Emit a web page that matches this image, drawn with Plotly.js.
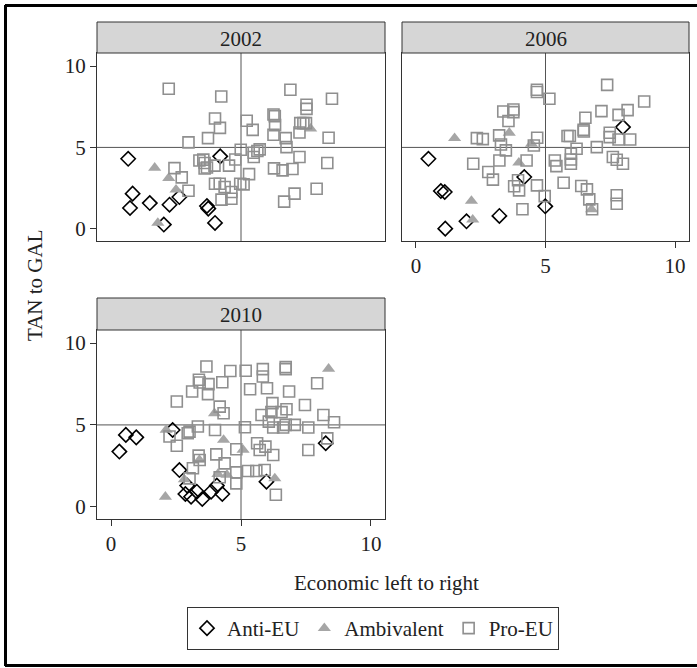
<!DOCTYPE html>
<html>
<head>
<meta charset="utf-8">
<script src="https://cdn.plot.ly/plotly-3.0.1.min.js"></script>
<style>
html,body{margin:0;padding:0;background:#fff;}
#chart{width:697px;height:668px;}
</style>
</head>
<body>
<div id="chart"></div>
<script>
// ---------- Data ----------
const panelYears = ["2002", "2006", "2010"];
const groupNames = ["Anti-EU", "Ambivalent", "Pro-EU"];
const tickVals = [0, 5, 10];
const tickLabels = ["0", "5", "10"];

// 2002
const anti2002X = [0.66,4.2,0.83,0.73,1.49,2.25,2.63,3.69,3.74,2.03,4.0];
const anti2002Y = [4.3,4.45,2.16,1.28,1.58,1.48,1.95,1.4,1.24,0.26,0.36];
const amb2002X = [1.68,2.22,2.5,1.8,7.68];
const amb2002Y = [3.75,3.12,2.4,0.36,6.15];
const pro2002X = [2.22,4.24,4.0,4.19,2.98,3.73,6.9,8.5,7.52,7.52,6.25,6.3,5.22,5.45,6.31,6.25,7.28,7.4,7.5,7.25,8.37,6.72,6.75,4.99,5.49,5.72,5.63,5.49,7.25,8.32,6.27,6.6,6.98,5.31,7.91,7.06,6.66,2.44,2.72,2.98,3.4,3.6,3.69,3.98,4.54,4.78,4.0,4.18,4.37,4.63,4.63,4.25,4.97,5.1,3.6,3.55];
const pro2002Y = [8.6,8.13,6.78,6.2,5.31,5.57,8.54,7.99,7.62,7.37,7.02,6.92,6.64,6.08,6.37,5.78,6.49,6.49,6.49,5.92,5.59,5.57,5.02,4.86,4.67,4.88,4.78,4.41,4.41,4.04,3.71,3.59,3.67,3.36,2.46,2.16,1.67,3.73,3.16,2.34,4.2,4.04,3.77,3.88,3.88,4.26,2.77,2.77,2.57,2.26,1.85,1.79,2.77,2.73,3.7,4.25];

// 2006
const anti2006X = [0.48,0.96,1.11,1.13,1.95,3.22,4.18,4.99,7.99];
const anti2006Y = [4.3,2.32,2.26,0.01,0.46,0.79,3.18,1.38,6.25];
const amb2006X = [1.49,3.6,4.46,3.97,2.14,2.19,6.78];
const amb2006Y = [5.57,5.9,5.22,4.06,1.71,0.56,1.2];
const pro2006X = [4.67,4.67,5.15,7.38,8.81,8.17,7.82,7.16,6.54,6.47,6.48,5.94,5.85,7.48,7.48,7.82,8.27,3.37,3.76,3.76,3.57,3.21,3.28,3.47,2.35,2.58,4.68,4.55,2.21,2.79,2.97,3.22,4.27,3.94,3.79,3.98,4.67,4.97,4.11,5.36,5.42,5.98,5.98,5.98,6.2,6.98,7.6,7.75,7.99,5.7,6.38,6.6,6.69,7.75,7.75,6.8];
const pro2006Y = [8.54,8.4,7.99,8.84,7.82,7.29,7.0,7.23,6.82,6.08,5.98,5.7,5.7,5.9,5.63,5.49,5.49,7.21,7.33,7.17,6.62,5.74,5.18,4.82,5.57,5.51,5.59,5.12,4.0,3.49,3.02,4.2,4.2,2.98,2.61,2.36,2.67,2.01,1.2,4.2,3.85,4.61,4.26,4.0,4.92,5.02,4.41,4.24,4.0,2.83,2.63,2.42,1.81,2.06,1.54,1.2];

// 2010
const anti2010X = [0.57,0.97,0.32,2.37,2.63,2.93,2.86,3.08,3.3,3.51,3.85,4.28,4.07,5.98,8.26];
const anti2010Y = [4.39,4.24,3.37,4.69,2.24,1.29,0.78,0.61,0.92,0.47,0.92,0.78,1.29,1.53,3.88];
const amb2010X = [2.12,2.09,2.82,3.4,3.98,4.33,4.46,4.11,5.08,6.3,8.37];
const amb2010Y = [4.69,0.61,1.67,2.86,5.71,4.08,1.94,2.0,3.47,1.73,8.43];
const pro2010X = [3.67,4.59,5.18,5.84,5.84,6.72,6.72,3.38,3.41,3.75,3.12,3.73,4.28,5.35,6.0,6.85,7.93,2.53,4.18,4.33,6.21,6.75,7.46,8.17,8.58,5.79,6.17,6.56,6.07,6.24,6.62,6.72,7.07,7.59,5.15,4.0,3.34,3.02,2.95,2.25,2.53,8.32,7.59,5.62,5.94,5.72,6.24,4.82,4.05,3.37,3.41,4.37,3.15,5.27,5.59,5.91,4.82,4.82,3.02,4.18,6.34];
const pro2010Y = [8.57,8.29,8.31,8.41,7.96,8.53,8.41,7.76,7.59,7.49,7.04,6.88,7.61,7.18,7.24,7.04,7.55,6.43,6.12,5.71,6.33,5.96,6.22,5.61,5.16,5.61,5.78,5.78,5.2,4.84,4.84,5.0,5.0,4.84,4.86,4.69,4.9,4.59,4.49,4.29,3.73,4.18,3.47,3.88,3.67,3.47,3.16,3.51,3.2,3.12,2.86,2.65,2.35,2.18,2.18,2.24,2.1,1.43,1.73,1.8,0.73];

// ---------- Styling ----------
const FONT = "Liberation Serif, Times New Roman, serif";
const TXT = "#222";
const AX = "#333";
const W = 697, H = 668;
const px = v => v / W;
const py = v => 1 - v / H;

const styles = [
  {symbol: "diamond-open", size: 11, color: "#000", line: {width: 1.6, color: "#000"}},
  {symbol: "triangle-up", size: 11.5, color: "#a6a6a6", line: {width: 0}},
  {symbol: "square-open", size: 11, color: "#8f8f8f", line: {width: 1.6, color: "#8f8f8f"}}
];

const dataSets = [
  [[anti2002X, anti2002Y], [amb2002X, amb2002Y], [pro2002X, pro2002Y]],
  [[anti2006X, anti2006Y], [amb2006X, amb2006Y], [pro2006X, pro2006Y]],
  [[anti2010X, anti2010Y], [amb2010X, amb2010Y], [pro2010X, pro2010Y]]
];

const traces = [];
dataSets.forEach((panel, p) => {
  const ax = p === 0 ? "" : String(p + 1);
  panel.forEach((xy, g) => {
    const s = styles[g];
    traces.push({
      type: "scatter", mode: "markers",
      x: xy[0], y: xy[1],
      xaxis: "x" + ax, yaxis: "y" + ax,
      name: groupNames[g], legendgroup: groupNames[g],
      showlegend: p === 0,
      marker: {symbol: s.symbol, size: s.size, color: s.color, line: s.line},
      hoverinfo: "skip"
    });
  });
});

// panel pixel boxes [left, right, top, bottom], header [top,bottom]
const boxes = [
  {l: 97, r: 385, t: 53, b: 241, ht: 22},
  {l: 402, r: 689, t: 53, b: 241, ht: 22},
  {l: 97, r: 385, t: 330, b: 519, ht: 298}
];
const showXT = [false, true, true];
const showYT = [true, false, true];

const layout = {
  width: W, height: H,
  margin: {l: 0, r: 0, t: 0, b: 0},
  paper_bgcolor: "#fff", plot_bgcolor: "#fff",
  font: {family: FONT, size: 21, color: TXT},
  showlegend: true,
  legend: {
    orientation: "h", x: px(373), xanchor: "center", y: py(607), yanchor: "top",
    bordercolor: AX, borderwidth: 1, bgcolor: "#fff",
    font: {family: FONT, size: 21, color: TXT},
    itemclick: false, itemdoubleclick: false
  },
  shapes: [], annotations: []
};

boxes.forEach((b, p) => {
  const ax = p === 0 ? "" : String(p + 1);
  layout["xaxis" + ax] = {
    domain: [px(b.l), px(b.r)], range: [-0.54, 10.54], anchor: "y" + ax,
    showgrid: false, zeroline: false, showline: true, mirror: true,
    linecolor: AX, linewidth: 1,
    tickmode: "array", tickvals: tickVals, ticktext: tickLabels,
    ticks: showXT[p] ? "outside" : "", ticklen: 6, tickcolor: AX, tickwidth: 1,
    showticklabels: showXT[p],
    tickfont: {family: FONT, size: 21, color: TXT}, fixedrange: true
  };
  layout["yaxis" + ax] = {
    domain: [py(b.b), py(b.t)], range: [-0.75, 10.8], anchor: "x" + ax,
    showgrid: false, zeroline: false, showline: true, mirror: true,
    linecolor: AX, linewidth: 1,
    tickmode: "array", tickvals: tickVals, ticktext: tickLabels,
    ticks: showYT[p] ? "outside" : "", ticklen: 6, tickcolor: AX, tickwidth: 1,
    showticklabels: showYT[p],
    tickfont: {family: FONT, size: 21, color: TXT}, fixedrange: true
  };
  // reference lines at 5
  layout.shapes.push({type: "line", xref: "x" + ax, yref: "y" + ax + " domain",
    x0: 5, x1: 5, y0: 0, y1: 1, line: {color: "#555", width: 1}, layer: "below"});
  layout.shapes.push({type: "line", xref: "x" + ax + " domain", yref: "y" + ax,
    x0: 0, x1: 1, y0: 5, y1: 5, line: {color: "#555", width: 1}, layer: "below"});
  // header strip
  layout.shapes.push({type: "rect", xref: "paper", yref: "paper",
    x0: px(b.l), x1: px(b.r), y0: py(b.t), y1: py(b.ht),
    fillcolor: "#d6d6d6", line: {color: AX, width: 1}});
  layout.annotations.push({xref: "paper", yref: "paper",
    x: px((b.l + b.r) / 2), y: py((b.ht + b.t) / 2 + 1),
    xanchor: "center", yanchor: "middle", showarrow: false,
    text: panelYears[p], font: {family: FONT, size: 21, color: TXT}});
});

// axis titles
layout.annotations.push({xref: "paper", yref: "paper", x: px(386), y: py(583),
  xanchor: "center", yanchor: "middle", showarrow: false,
  text: "Economic left to right", font: {family: FONT, size: 21, color: TXT}});
layout.annotations.push({xref: "paper", yref: "paper", x: px(35), y: py(286),
  xanchor: "center", yanchor: "middle", showarrow: false, textangle: -90,
  text: "TAN to GAL", font: {family: FONT, size: 21, color: TXT}});

// outer frame (left, top, bottom)
layout.shapes.push({type: "line", xref: "paper", yref: "paper", x0: px(5.5), x1: px(5.5), y0: py(5), y1: py(666), line: {color: "#000", width: 3}});
layout.shapes.push({type: "line", xref: "paper", yref: "paper", x0: px(5), x1: px(700), y0: py(5.5), y1: py(5.5), line: {color: "#000", width: 3}});
layout.shapes.push({type: "line", xref: "paper", yref: "paper", x0: px(5), x1: px(700), y0: py(665.5), y1: py(665.5), line: {color: "#000", width: 3}});

Plotly.newPlot("chart", traces, layout, {displayModeBar: false, staticPlot: true});
</script>
</body>
</html>
